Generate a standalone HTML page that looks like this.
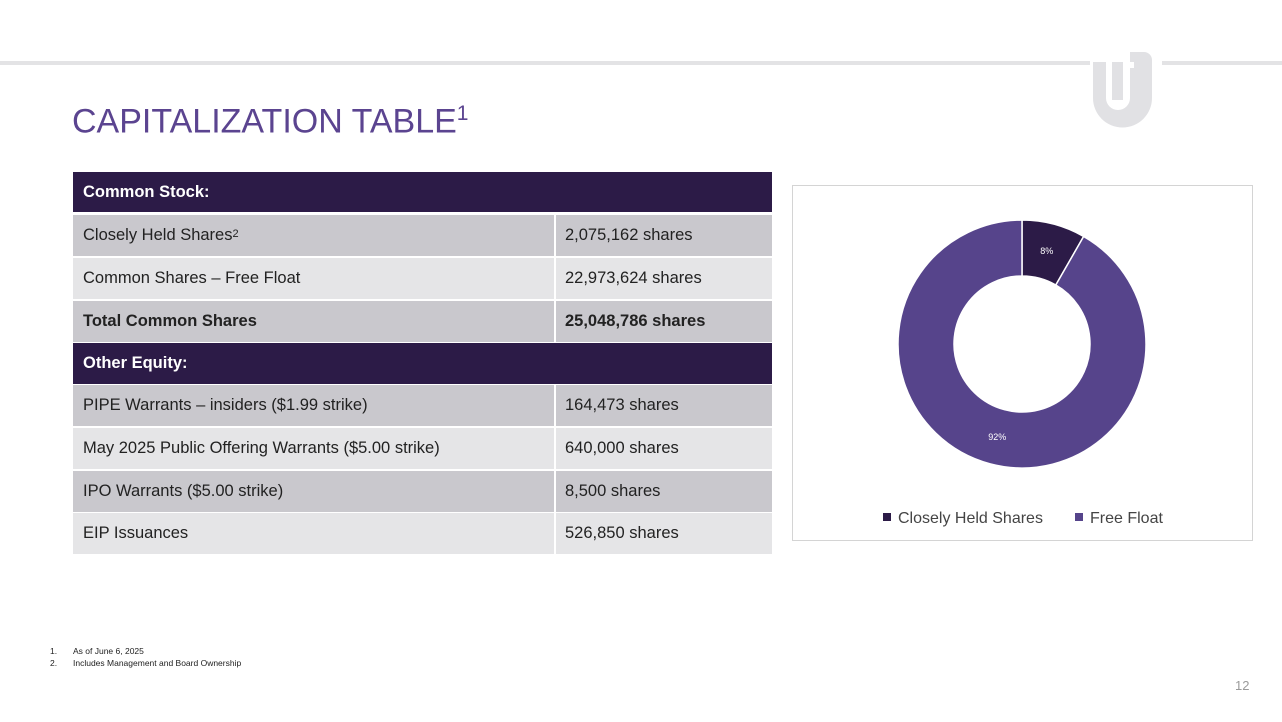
<!DOCTYPE html>
<html><head><meta charset="utf-8"><style>
body{margin:0;width:1282px;height:722px;background:#fff;position:relative;overflow:hidden;font-family:"Liberation Sans",sans-serif}
.abs{position:absolute}
.row{position:absolute;left:73px;width:699px;font-size:16.5px;color:#222}
.row div{position:absolute;top:0;bottom:0;display:flex;align-items:center}
.c1{left:0;width:479px;padding-left:10px;box-sizing:border-box}
.c2{left:481px;right:0;padding-left:9px;box-sizing:border-box}
.hd{background:#2c1b47;color:#fff;font-weight:bold}
.g{background:#c9c8cd}.l{background:#e5e5e7}
</style></head><body>
<div class="abs" style="left:0;top:61px;width:1090px;height:4px;background:#e3e3e5"></div>
<div class="abs" style="left:1162px;top:61px;width:120px;height:4px;background:#e3e3e5"></div>
<svg class="abs" style="left:1088px;top:48px" width="72" height="80" viewBox="0 0 72 80">
<path d="M5 14 H18 V50 A12 12 0 0 0 42 50 V4 H56 A8 8 0 0 1 64 12 V50 A29.5 29.5 0 0 1 5 50 Z" fill="#e1e1e4"/>
<rect x="24" y="14" width="11" height="38" fill="#e1e1e4"/>
<rect x="42" y="14" width="4" height="6" fill="#fff"/>
</svg>
<div class="abs" style="left:72px;top:102px;font-size:34px;color:#5b4490;letter-spacing:0px">CAPITALIZATION TABLE<sup style="font-size:21px">1</sup></div>

<div class="row hd" style="top:172px;height:40px"><div class="c1" style="width:699px">Common Stock:</div></div>
<div class="row g" style="top:215px;height:41px"><div class="c1">Closely Held Shares<sup style="font-size:11px;position:relative;top:-2px">2</sup></div><div class="c2" style="border-left:2px solid #fff">2,075,162 shares</div></div>
<div class="row l" style="top:258px;height:41px"><div class="c1">Common Shares – Free Float</div><div class="c2" style="border-left:2px solid #fff">22,973,624 shares</div></div>
<div class="row g" style="top:301px;height:41px;font-weight:bold"><div class="c1">Total Common Shares</div><div class="c2" style="border-left:2px solid #fff">25,048,786 shares</div></div>
<div class="row hd" style="top:343px;height:41px"><div class="c1" style="width:699px">Other Equity:</div></div>
<div class="row g" style="top:385px;height:41px"><div class="c1">PIPE Warrants – insiders ($1.99 strike)</div><div class="c2" style="border-left:2px solid #fff">164,473 shares</div></div>
<div class="row l" style="top:428px;height:41px"><div class="c1">May 2025 Public Offering Warrants ($5.00 strike)</div><div class="c2" style="border-left:2px solid #fff">640,000 shares</div></div>
<div class="row g" style="top:471px;height:41px"><div class="c1">IPO Warrants ($5.00 strike)</div><div class="c2" style="border-left:2px solid #fff">8,500 shares</div></div>
<div class="row l" style="top:513px;height:41px"><div class="c1">EIP Issuances</div><div class="c2" style="border-left:2px solid #fff">526,850 shares</div></div>

<div class="abs" style="left:792px;top:185px;width:459px;height:354px;border:1px solid #d4d4d4"></div>
<svg class="abs" id="donut" style="left:0;top:0" width="1282" height="722"></svg>

<div class="abs" style="left:50px;top:645px;font-size:8.5px;color:#222;line-height:12px">
<div><span style="display:inline-block;width:23px">1.</span>As of June 6, 2025</div>
<div><span style="display:inline-block;width:23px">2.</span>Includes Management and Board Ownership</div></div>
<div class="abs" style="left:1235px;top:678px;font-size:13px;color:#9a9a9a">12</div>
<script>
const categories=["Closely Held Shares","Free Float"];
const values=[2075162,22973624];
const colors=["#2c1b47","#56448b"];
const svg=document.getElementById('donut');const NS="http://www.w3.org/2000/svg";
const cx=1022,cy=344,R=124,r=68;
const total=values.reduce((a,b)=>a+b,0);
let a0=-Math.PI/2;
function pt(rad,a){return [cx+rad*Math.cos(a),cy+rad*Math.sin(a)];}
values.forEach((v,i)=>{
 const a1=a0+v/total*2*Math.PI;const big=(a1-a0)>Math.PI?1:0;
 const [x1,y1]=pt(R,a0),[x2,y2]=pt(R,a1),[x3,y3]=pt(r,a1),[x4,y4]=pt(r,a0);
 const p=document.createElementNS(NS,'path');
 p.setAttribute('d',`M${x1} ${y1}A${R} ${R} 0 ${big} 1 ${x2} ${y2}L${x3} ${y3}A${r} ${r} 0 ${big} 0 ${x4} ${y4}Z`);
 p.setAttribute('fill',colors[i]);p.setAttribute('stroke','#fff');p.setAttribute('stroke-width','1.5');
 
 
 svg.appendChild(p);
 const mid=(a0+a1)/2;const [tx,ty]=pt((R+r)/2,mid);
 const t=document.createElementNS(NS,'text');
 t.setAttribute('x',tx);t.setAttribute('y',ty+3);t.setAttribute('text-anchor','middle');
 t.setAttribute('font-size','9');t.setAttribute('fill','#fff');t.setAttribute('font-family','Liberation Sans, sans-serif');
 t.textContent=Math.round(v/total*100)+'%';
 
 
 svg.appendChild(t);
 a0=a1;
});
const lx=[883,1075];
categories.forEach((c,i)=>{
 const s=document.createElementNS(NS,'rect');
 s.setAttribute('x',lx[i]);s.setAttribute('y',513);s.setAttribute('width',8);s.setAttribute('height',8);s.setAttribute('fill',colors[i]);
 
 
 svg.appendChild(s);
 const t=document.createElementNS(NS,'text');
 t.setAttribute('x',lx[i]+15);t.setAttribute('y',523);t.setAttribute('font-size','16');t.setAttribute('fill','#444');t.setAttribute('font-family','Liberation Sans, sans-serif');
 t.textContent=c;
 
 
 svg.appendChild(t);
});
</script>
</body></html>
